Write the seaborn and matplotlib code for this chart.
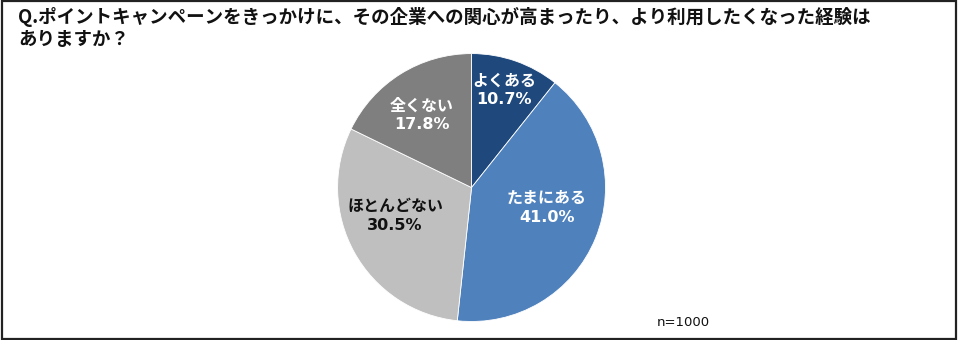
import matplotlib
matplotlib.use("Agg")
import matplotlib.pyplot as plt
import seaborn as sns
import numpy as np
from matplotlib.patches import Rectangle

categories = ["よくある", "たまにある", "ほとんどない", "全くない"]
values = [10.7, 41.0, 30.5, 17.8]
title = "Q.ポイントキャンペーンをきっかけに、その企業への関心が高まったり、より利用したくなった経験は\nありますか？"
note = "n=1000"

colors = ["#1F497D", "#4F81BD", "#BFBFBF", "#7F7F7F"]
text_colors = ["white", "white", "#111111", "white"]
label_xy = [(0.243, 0.728), (0.563, -0.153), (-0.571, -0.213), (-0.369, 0.541)]

sns.set_theme(style="white")
plt.rcParams['font.family'] = ['DejaVu Sans', 'Noto Sans CJK JP']

fig = plt.figure(figsize=(9.6, 3.4), dpi=100)
fig.patch.set_facecolor("white")

ax = fig.add_axes([0.3516, 0.0544, 0.2792, 0.788])
wedges, _ = ax.pie(values, colors=colors, startangle=90, counterclock=False,
                   wedgeprops=dict(edgecolor="white", linewidth=0.6))
ax.set_xlim(-1, 1)
ax.set_ylim(-1, 1)
ax.set_aspect("equal")
ax.axis("off")

for cat, v, (x, y), tc in zip(categories, values, label_xy, text_colors):
    ax.text(x, y, f"{cat}\n{v:.1f}%", ha="center", va="center", color=tc,
            fontsize=11.5, fontweight="bold", linespacing=1.3)

fig.text(18/960, 1 - 7/340, title, ha="left", va="top", fontsize=13.3,
         fontweight="bold", color="#111111", linespacing=1.2,
         family=['Noto Sans CJK JP', 'DejaVu Sans'])
fig.text(657/960, 1 - 322/340, note, ha="left", va="center", fontsize=9.5,
         color="#111111")

fig.patches.append(Rectangle((0.002, 0.004), 0.994, 0.992, transform=fig.transFigure,
                             fill=False, edgecolor="#222222", linewidth=1.6))

fig.savefig("out.png", dpi=100)
